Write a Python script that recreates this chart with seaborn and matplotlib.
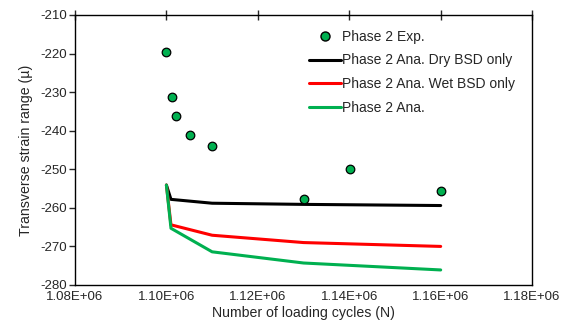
import matplotlib
matplotlib.use("Agg")
import matplotlib.pyplot as plt
import numpy as np
import pandas as pd
import seaborn as sns
from matplotlib.lines import Line2D

# experimental points
exp_cycles = [1.1000e6, 1.1012e6, 1.1021e6, 1.1051e6, 1.1100e6, 1.1301e6, 1.1401e6, 1.1601e6]
exp_strain = [-219.6, -231.3, -236.2, -241.0, -243.9, -257.6, -249.8, -255.6]

# analytical curves
ana_cycles = [1.1000e6, 1.1010e6, 1.1100e6, 1.1300e6, 1.1600e6]
ana_dry = [-254.1, -257.8, -258.8, -259.1, -259.4]
ana_wet = [-254.1, -264.4, -267.1, -269.0, -270.0]
ana_full = [-254.1, -265.3, -271.4, -274.3, -276.1]

x_ticks = [1.08e6, 1.10e6, 1.12e6, 1.14e6, 1.16e6, 1.18e6]
y_ticks = [-280, -270, -260, -250, -240, -230, -220, -210]

sns.set_style("ticks")
plt.rcParams['font.family'] = ['Liberation Sans', 'DejaVu Sans']
plt.rcParams['axes.unicode_minus'] = False

fig = plt.figure(figsize=(5.75, 3.31), dpi=100)
ax = fig.add_axes([0.1304, 0.139, 0.795, 0.8157])

df_exp = pd.DataFrame({"N": exp_cycles, "strain": exp_strain})
df_ana = pd.DataFrame({"N": ana_cycles * 3,
                       "strain": ana_dry + ana_wet + ana_full,
                       "series": ["Phase 2 Ana. Dry BSD only"] * 5
                                 + ["Phase 2 Ana. Wet BSD only"] * 5
                                 + ["Phase 2 Ana."] * 5})

sns.lineplot(data=df_ana, x="N", y="strain", hue="series",
             palette=["#000000", "#ff0000", "#00b050"], linewidth=2.2,
             sort=False, ax=ax, legend=False)
sns.scatterplot(data=df_exp, x="N", y="strain", color="#00b050", s=38,
                edgecolor="black", linewidth=0.9, zorder=5, ax=ax, legend=False)

ax.set_xlim(1.08e6, 1.18e6)
ax.set_ylim(-280, -210)
ax.set_xticks(x_ticks)
ax.set_yticks(y_ticks)
ax.set_xticklabels([f"{v:.2E}" for v in x_ticks])

# x axis ticks sit on the top spine, labels at the bottom
ax.tick_params(axis='x', which='both', bottom=False, top=True, direction='inout',
               length=7, width=1, labelsize=9.5, pad=1)
ax.tick_params(axis='y', direction='out', length=4, width=1, labelsize=9.5, pad=2)
for s in ax.spines.values():
    s.set_linewidth(1)
    s.set_color("black")

ax.set_xlabel("Number of loading cycles (N)", fontsize=10.2, labelpad=2)
ax.set_ylabel("Transverse strain range (µ)", fontsize=10.2, labelpad=5)

handles = [Line2D([], [], linestyle='none', marker='o', markerfacecolor="#00b050",
                  markeredgecolor="black", markersize=6.5),
           Line2D([], [], color="#000000", lw=2.2),
           Line2D([], [], color="#ff0000", lw=2.2),
           Line2D([], [], color="#00b050", lw=2.2)]
labels = ["Phase 2 Exp.", "Phase 2 Ana. Dry BSD only", "Phase 2 Ana. Wet BSD only", "Phase 2 Ana."]
ax.legend(handles, labels, loc='upper left', bbox_to_anchor=(0.5, 0.966), frameon=False,
          fontsize=10, handlelength=2.3, handletextpad=0.1, labelspacing=0.7,
          borderaxespad=0)

fig.savefig("out.png", dpi=100)
